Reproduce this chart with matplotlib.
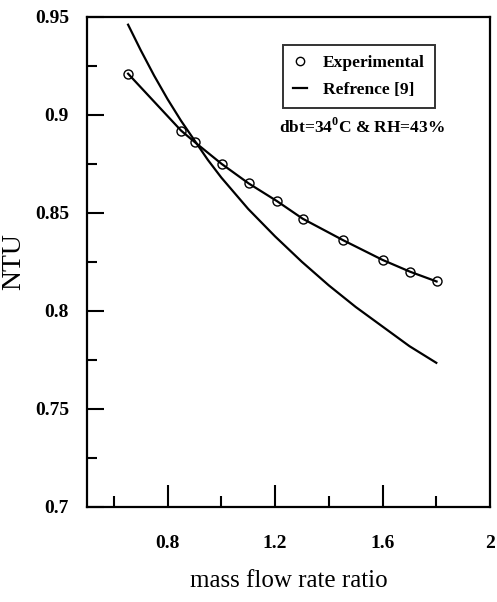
import numpy as np
import matplotlib
matplotlib.use('Agg')
import matplotlib.pyplot as plt
from matplotlib.lines import Line2D

plt.rcParams['font.family'] = ['Liberation Serif', 'DejaVu Serif']
plt.rcParams['mathtext.fontset'] = 'custom'
plt.rcParams['mathtext.rm'] = 'Liberation Serif'
plt.rcParams['mathtext.bf'] = 'Liberation Serif:bold'

# experimental points
x_exp = [0.653, 0.85, 0.902, 1.001, 1.102, 1.207, 1.303, 1.454, 1.600, 1.702, 1.801]
y_exp = [0.921, 0.892, 0.886, 0.875, 0.865, 0.856, 0.847, 0.836, 0.826, 0.820, 0.815]

# reference [9] curve
x_ref = [0.653, 0.70, 0.75, 0.80, 0.85, 0.90, 0.95, 1.00, 1.05, 1.10, 1.15, 1.20, 1.30,
         1.40, 1.50, 1.60, 1.70, 1.80]
y_ref = [0.946, 0.933, 0.920, 0.908, 0.897, 0.887, 0.877, 0.868, 0.860, 0.852, 0.845, 0.838,
         0.825, 0.813, 0.802, 0.792, 0.782, 0.7735]

x_major = [0.8, 1.2, 1.6]
x_minor = [0.6, 1.0, 1.4, 1.8]
x_labels = ['0.8', '1.2', '1.6', '2']
y_major = [0.7, 0.75, 0.8, 0.85, 0.9, 0.95]
y_minor = [0.725, 0.775, 0.825, 0.875, 0.925]
y_labels = ['0.7', '0.75', '0.8', '0.85', '0.9', '0.95']

fig = plt.figure(figsize=(4.97, 6.02), dpi=100)
ax = fig.add_axes([0.175, 0.158, 0.811, 0.814])

ax.plot(x_ref, y_ref, color='black', lw=1.6)
ax.plot(x_exp, y_exp, color='black', lw=1.6, marker='o', ms=6.5,
        mfc='none', mec='black', mew=1.0)

ax.set_xlim(0.5, 2.0)
ax.set_ylim(0.7, 0.95)

ax.set_xticks(x_major + [2.0])
ax.set_xticklabels(x_labels, fontsize=14, fontweight='bold')
ax.set_xticks(x_minor, minor=True)
ax.set_yticks(y_major)
ax.set_yticklabels(y_labels, fontsize=14, fontweight='bold')
ax.set_yticks(y_minor, minor=True)
ax.tick_params(axis='x', which='major', direction='in', length=16, width=1.5, pad=20)
ax.tick_params(axis='x', which='minor', direction='in', length=8, width=1.5)
ax.tick_params(axis='y', which='major', direction='in', length=12, width=1.5, pad=13)
ax.tick_params(axis='y', which='minor', direction='in', length=7, width=1.5)
ax.xaxis.get_major_ticks()[-1].tick1line.set_visible(False)
for s in ax.spines.values():
    s.set_linewidth(1.6)

ax.set_ylabel('NTU', fontsize=20)
ax.yaxis.set_label_coords(-0.152, 0.5)
ax.set_xlabel('mass flow rate ratio', fontsize=18)
ax.xaxis.set_label_coords(0.5, -0.128)

handles = [Line2D([], [], ls='none', marker='o', mfc='none', mec='black', ms=6),
           Line2D([], [], color='black', lw=1.6)]
leg = ax.legend(handles, ['Experimental', 'Refrence [9]'], loc='upper left',
                bbox_to_anchor=(0.486, 0.943), prop={'weight': 'bold', 'size': 12.5},
                frameon=True, fancybox=False, handlelength=0.8, handletextpad=0.9,
                borderpad=0.6, labelspacing=0.6, borderaxespad=0)
leg.get_frame().set_edgecolor('black')
leg.get_frame().set_linewidth(1.4)

ax.text(0.683, 0.775, r'dbt=34$^{\mathbf{0}}$C & RH=43%', transform=ax.transAxes,
        ha='center', va='center', fontsize=12.5, fontweight='bold')

fig.savefig('out.png', dpi=100)
